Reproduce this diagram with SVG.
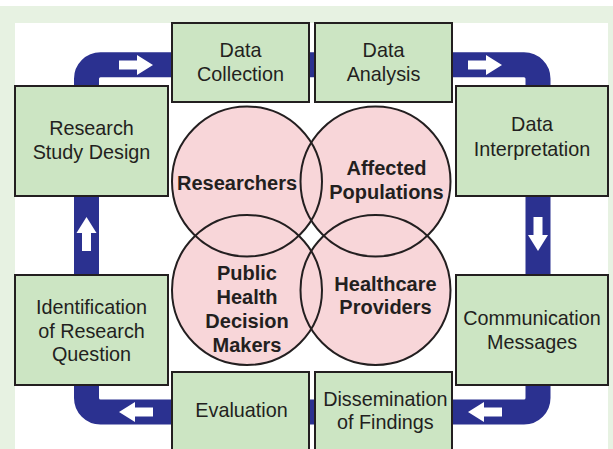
<svg xmlns="http://www.w3.org/2000/svg" width="613" height="449" viewBox="0 0 613 449">
  <style>
    .box { fill: #cce5c3; stroke: #231f20; stroke-width: 2; }
    .circ { fill: #f8d6d9; stroke: none; }
    .ring { fill: none; stroke: #231f20; stroke-width: 2; }
    .lbl { font-family: "Liberation Sans", Arial, sans-serif; font-size: 19.8px; fill: #231f20; text-anchor: middle; }
    .grp { font-family: "Liberation Sans", Arial, sans-serif; font-size: 20px; font-weight: bold; fill: #231f20; text-anchor: middle; }
    .band { fill: none; stroke: #2b3190; stroke-width: 25; }
    .tip { fill: #ffffff; }
  </style>
  <defs>
    <!-- white block arrow pointing right, tip at origin -->
    <polygon id="arw" points="0,0 -16,-10 -16,-4.5 -34,-4.5 -34,4.5 -16,4.5 -16,10"/>
  </defs>

  <!-- frame -->
  <rect x="0" y="6" width="613" height="443" fill="#e7f2e2"/>
  <rect x="15" y="23" width="593" height="430" fill="#ffffff"/>

  <!-- cycle band with direction arrows -->
  <g id="connectors">
    <rect class="band" x="86.5" y="64.8" width="451.5" height="347.2" rx="14" ry="14"/>
    <use href="#arw" class="tip" transform="translate(153,65)"/>
    <use href="#arw" class="tip" transform="translate(502,65)"/>
    <use href="#arw" class="tip" transform="translate(538,251) rotate(90)"/>
    <use href="#arw" class="tip" transform="translate(468,412) rotate(180)"/>
    <use href="#arw" class="tip" transform="translate(119,412) rotate(180)"/>
    <use href="#arw" class="tip" transform="translate(86.5,217) rotate(-90)"/>
  </g>

  <!-- stakeholder circles: fills first, outlines on top -->
  <g id="circles">
    <circle class="circ" cx="247" cy="181.5" r="75"/>
    <circle class="circ" cx="375.5" cy="181.5" r="75"/>
    <circle class="circ" cx="247" cy="290" r="75"/>
    <circle class="circ" cx="375.5" cy="290" r="75"/>
    <circle class="ring" cx="247" cy="181.5" r="75"/>
    <circle class="ring" cx="375.5" cy="181.5" r="75"/>
    <circle class="ring" cx="247" cy="290" r="75"/>
    <circle class="ring" cx="375.5" cy="290" r="75"/>
  </g>
  <g id="researchers"><text class="grp" x="237" y="189.5">Researchers</text></g>
  <g id="affected-populations">
    <text class="grp" x="386.5" y="175">Affected</text>
    <text class="grp" x="386.5" y="198.5">Populations</text>
  </g>
  <g id="decision-makers">
    <text class="grp" x="247" y="279.5">Public</text>
    <text class="grp" x="247" y="303.5">Health</text>
    <text class="grp" x="247" y="327.5">Decision</text>
    <text class="grp" x="247" y="351.5">Makers</text>
  </g>
  <g id="healthcare-providers">
    <text class="grp" x="385.5" y="290.5">Healthcare</text>
    <text class="grp" x="385.5" y="313.5">Providers</text>
  </g>

  <!-- process steps -->
  <g id="data-collection">
    <rect class="box" x="172" y="23" width="137" height="79"/>
    <text class="lbl" x="240.5" y="57.3">Data</text>
    <text class="lbl" x="240.5" y="80.7">Collection</text>
  </g>
  <g id="data-analysis">
    <rect class="box" x="315" y="23" width="137" height="79"/>
    <text class="lbl" x="383.5" y="57.3">Data</text>
    <text class="lbl" x="383.5" y="80.7">Analysis</text>
  </g>
  <g id="data-interpretation">
    <rect class="box" x="456" y="86" width="152" height="110"/>
    <text class="lbl" x="532" y="130.7">Data</text>
    <text class="lbl" x="532" y="155.5">Interpretation</text>
  </g>
  <g id="communication-messages">
    <rect class="box" x="456" y="275" width="152" height="110"/>
    <text class="lbl" x="532" y="325">Communication</text>
    <text class="lbl" x="532" y="349.3">Messages</text>
  </g>
  <g id="dissemination">
    <rect class="box" x="315" y="372" width="137" height="82"/>
    <text class="lbl" x="385.3" y="405.7">Dissemination</text>
    <text class="lbl" x="385.3" y="429">of Findings</text>
  </g>
  <g id="evaluation">
    <rect class="box" x="172" y="372" width="137" height="82"/>
    <text class="lbl" x="241.5" y="417.3">Evaluation</text>
  </g>
  <g id="research-question">
    <rect class="box" x="15" y="275" width="153" height="110"/>
    <text class="lbl" x="91.5" y="314">Identification</text>
    <text class="lbl" x="91.5" y="337.5">of Research</text>
    <text class="lbl" x="91.5" y="361.3">Question</text>
  </g>
  <g id="study-design">
    <rect class="box" x="15" y="86" width="153" height="110"/>
    <text class="lbl" x="91.5" y="135">Research</text>
    <text class="lbl" x="91.5" y="159">Study Design</text>
  </g>
</svg>
